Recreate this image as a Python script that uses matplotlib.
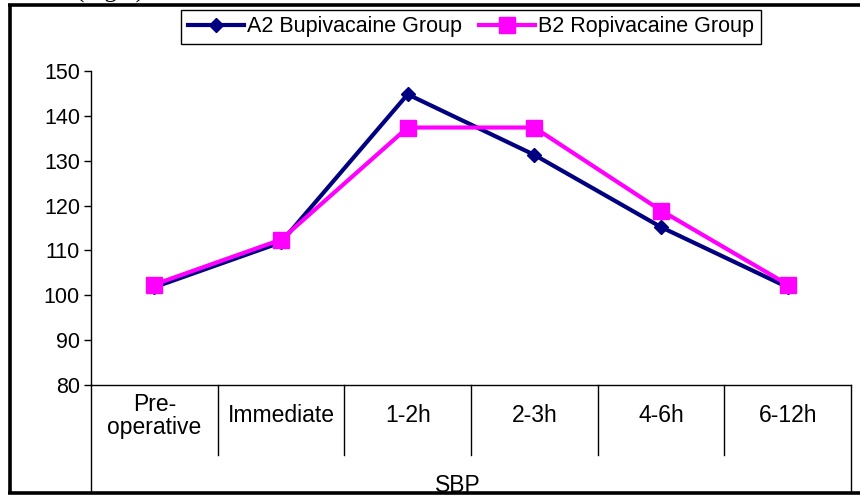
import matplotlib
matplotlib.use("Agg")
import matplotlib.pyplot as plt
from matplotlib.lines import Line2D

categories = ["Pre-\noperative", "Immediate", "1-2h", "2-3h", "4-6h", "6-12h"]
bupivacaine = [101.8, 111.8, 144.8, 131.3, 115.2, 101.8]
ropivacaine = [102.4, 112.4, 137.4, 137.4, 118.9, 102.4]
y_ticks = [80, 90, 100, 110, 120, 130, 140, 150]
group_label = "SBP"
caption = "(Fig.2)"

plt.rcParams["font.family"] = ["Liberation Sans", "DejaVu Sans"]

W, H = 860, 496
fig = plt.figure(figsize=(W / 100, H / 100), dpi=100)


def px_line(x0, y0, x1, y1, lw):
    # line in figure pixel coords (origin top-left)
    fig.add_artist(Line2D([x0 / W, x1 / W], [1 - y0 / H, 1 - y1 / H],
                          color="black", lw=lw, solid_capstyle="butt"))


ax_l, ax_r, ax_t, ax_b = 91, 851, 71, 385
ax = fig.add_axes([ax_l / W, 1 - ax_b / H, (ax_r - ax_l) / W, (ax_b - ax_t) / H])
ax_h = ax_b - ax_t

x = [i + 0.5 for i in range(len(categories))]
ax.plot(x, bupivacaine, color="#000080", lw=3, marker="D", ms=7,
        label="A2 Bupivacaine Group", clip_on=False, zorder=3)
ax.plot(x, ropivacaine, color="#FF00FF", lw=3, marker="s", ms=11.5,
        label="B2 Ropivacaine Group", clip_on=False, zorder=4)

ax.set_xlim(0, len(categories))
ax.set_ylim(80, 150)
ax.set_yticks(y_ticks)
ax.set_xticks([])
ax.tick_params(axis="y", length=5, width=1, labelsize=15.5, pad=3)
for s in ("top", "right"):
    ax.spines[s].set_visible(False)
for s in ("left", "bottom"):
    ax.spines[s].set_linewidth(1)

# category table below the axis
xt = ax.get_xaxis_transform()
for k in range(1, len(categories)):
    ax.plot([k, k], [0, -(455 - ax_b) / ax_h], color="black", lw=1,
            transform=xt, clip_on=False)
for k in (0, len(categories)):
    ax.plot([k, k], [0, -(493 - ax_b) / ax_h], color="black", lw=1,
            transform=xt, clip_on=False)
for xi, lab in zip(x, categories):
    ax.text(xi, -(416 - ax_b) / ax_h, lab, transform=xt, ha="center",
            va="center", fontsize=16.5, linespacing=1.05)
ax.text((458 - ax_l) / (ax_r - ax_l), -(485 - ax_b) / ax_h, group_label,
        transform=ax.transAxes, ha="center", va="center", fontsize=16.5)

leg = ax.legend(loc="upper center", bbox_to_anchor=(0.5, 1 + (ax_t - 10) / ax_h),
                ncol=2, fontsize=15.5, frameon=True, fancybox=False,
                borderpad=0.3, borderaxespad=0, handlelength=2.6,
                handletextpad=0.15, columnspacing=0.8)
leg.get_frame().set_edgecolor("black")
leg.get_frame().set_linewidth(1)
leg.get_frame().set_alpha(1)

# page frame around the chart
px_line(8, 5, 860, 5, 2.6)
px_line(10, 5, 10, 494, 2.6)
px_line(8, 493, 860, 493, 2.6)

fig.text(76 / W, 1 + 2.5 / H, caption, family="Liberation Serif", fontsize=18,
         va="baseline", ha="left")

fig.savefig("out.png", dpi=100)
